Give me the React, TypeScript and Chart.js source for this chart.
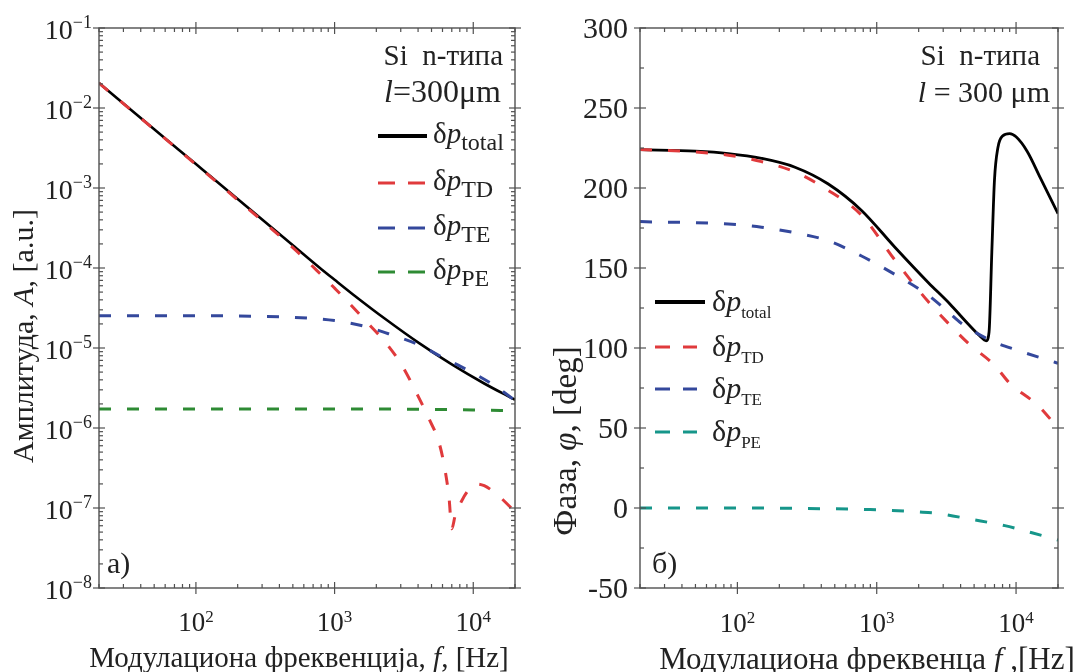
import React, { useEffect, useRef } from 'react';
import { Chart, registerables } from 'chart.js';

Chart.register(...registerables);

const SERIF = '"Liberation Serif","Times New Roman",serif';
const font = (size: number, style = '') => `${style} ${size}px ${SERIF}`.trim();

// ---------- Panel а) : amplitude ----------
const ampTotalFreq = [20, 50, 100, 200, 500, 780, 1000, 1350, 2350, 4070, 7000, 12000, 20000];
const ampTotal = [2.05e-2, 5.43e-3, 1.99e-3, 7.29e-4, 1.93e-4, 1.01e-4, 7.13e-5, 4.71e-5, 2.27e-5, 1.15e-5, 6.24e-6, 3.6e-6, 2.25e-6];

const ampTDFreq = [20, 50, 100, 200, 500, 780, 1000, 1150, 1690, 2350, 3090, 3870, 4800, 5690, 6300, 6700, 7000, 7400, 8300, 9300, 10500, 12000, 15000, 20000];
const ampTD = [2.05e-2, 5.4e-3, 1.97e-3, 7.1e-4, 1.8e-4, 8.6e-5, 5.6e-5, 4.38e-5, 2.15e-5, 1.15e-5, 5.9e-6, 2.8e-6, 1.3e-6, 6.4e-7, 2.8e-7, 1.3e-7, 5.5e-8, 8e-8, 1.25e-7, 1.7e-7, 2.0e-7, 1.9e-7, 1.45e-7, 9.0e-8];

const ampTEFreq = [20, 100, 200, 500, 1000, 1690, 2610, 4070, 6310, 9300, 14560, 20000];
const ampTE = [2.53e-5, 2.53e-5, 2.51e-5, 2.42e-5, 2.2e-5, 1.85e-5, 1.45e-5, 1.09e-5, 7.3e-6, 5.2e-6, 3.3e-6, 2.2e-6];

const ampPEFreq = [20, 1000, 3000, 6000, 10000, 20000];
const ampPE = [1.73e-6, 1.73e-6, 1.72e-6, 1.70e-6, 1.68e-6, 1.64e-6];

const ampTickValues = [1e-8, 1e-7, 1e-6, 1e-5, 1e-4, 1e-3, 1e-2, 1e-1];
const ampTickExps = ['−8', '−7', '−6', '−5', '−4', '−3', '−2', '−1'];

// ---------- Panel б) : phase ----------
const phTotalFreq = [20, 50, 86, 149, 259, 449, 778, 1350, 2340, 3350, 4530, 5500, 6100, 6400, 6700, 7000, 7400, 8000, 9000, 10000, 12000, 15000, 20000];
const phTotal = [224, 223, 221.5, 218.5, 213, 202.5, 186, 163, 141, 127.5, 115, 107.5, 104.5, 110, 160, 205, 225, 232.5, 234, 232, 223, 206, 184];

const phTDFreq = [20, 50, 86, 149, 259, 449, 778, 1350, 2340, 3300, 4530, 7050, 9000, 14400, 20000];
const phTD = [224, 222.5, 220.5, 216.5, 210, 198.5, 183, 155, 129, 115, 103, 89, 78, 64, 50];

const phTEFreq = [20, 86, 149, 259, 449, 778, 1350, 2340, 3260, 4040, 6650, 10300, 16900, 20000];
const phTE = [179, 177.5, 175.5, 172, 167, 157.5, 146, 133, 122.5, 115.5, 104.5, 98.5, 92.5, 90.5];

const phPEFreq = [20, 100, 300, 900, 2000, 2800, 4700, 8300, 13000, 20000];
const phPE = [0, 0, -0.3, -1, -2.5, -3.5, -7, -11, -15.5, -20];

const phTickValues = [-50, 0, 50, 100, 150, 200, 250, 300];
const phTickLabels = ['-50', '0', '50', '100', '150', '200', '250', '300'];

// ---------- shared x axis ----------
const freqTickValues = [100, 1000, 10000];
const freqTickExps = ['2', '3', '4'];

const C_BLACK = '#000000';
const C_RED = '#e03a3c';
const C_BLUE = '#34489c';
const C_GREEN = '#2e8b34';
const C_TEAL = '#16968a';
const DASH = [12, 16];

type Run = { t: string; f: string; dy?: number };

function drawRuns(ctx: CanvasRenderingContext2D, runs: Run[], x: number, y: number, align: 'left' | 'center' | 'right' = 'left') {
  let total = 0;
  runs.forEach((r) => { ctx.font = r.f; total += ctx.measureText(r.t).width; });
  let cx = align === 'left' ? x : align === 'center' ? x - total / 2 : x - total;
  ctx.textAlign = 'left';
  ctx.textBaseline = 'alphabetic';
  runs.forEach((r) => {
    ctx.font = r.f;
    ctx.fillText(r.t, cx, y + (r.dy || 0));
    cx += ctx.measureText(r.t).width;
  });
  return total;
}

function logTicks(min: number, max: number) {
  const out: { v: number; major: boolean }[] = [];
  for (let k = Math.floor(Math.log10(min)); k <= Math.ceil(Math.log10(max)); k++) {
    for (let m = 1; m <= 9; m++) {
      const v = m * Math.pow(10, k);
      if (v >= min * (1 - 1e-9) && v <= max * (1 + 1e-9)) out.push({ v, major: m === 1 });
    }
  }
  return out;
}

function line(ctx: CanvasRenderingContext2D, x1: number, y1: number, x2: number, y2: number) {
  ctx.beginPath();
  ctx.moveTo(x1, y1);
  ctx.lineTo(x2, y2);
  ctx.stroke();
}

function drawFrameAndTicks(ctx: CanvasRenderingContext2D, ca: any, xTicks: { p: number; major: boolean }[], yTicks: { p: number; major: boolean }[]) {
  ctx.strokeStyle = '#505050';
  ctx.lineWidth = 1.4;
  ctx.strokeRect(ca.left, ca.top, ca.right - ca.left, ca.bottom - ca.top);
  ctx.lineWidth = 1.2;
  xTicks.forEach(({ p, major }) => {
    if (major) {
      line(ctx, p, ca.bottom + 6, p, ca.bottom - 6);
      line(ctx, p, ca.top - 6, p, ca.top + 6);
    } else {
      line(ctx, p, ca.bottom, p, ca.bottom - 4);
      line(ctx, p, ca.top, p, ca.top + 4);
    }
  });
  yTicks.forEach(({ p, major }) => {
    if (major) {
      line(ctx, ca.left - 6, p, ca.left + 6, p);
      line(ctx, ca.right + 6, p, ca.right - 6, p);
    } else {
      line(ctx, ca.left, p, ca.left + 4, p);
      line(ctx, ca.right, p, ca.right - 4, p);
    }
  });
}

type LegendItem = { color: string; dashed: boolean; sub: string };

function drawLegend(ctx: CanvasRenderingContext2D, items: LegendItem[], rows: number[], x1: number, x2: number, x2d: number, dash: number[], tx: number, mainSize: number, subSize: number, baseOff: number, subOff: number) {
  items.forEach((it, i) => {
    const y = rows[i];
    ctx.save();
    ctx.strokeStyle = it.color;
    ctx.lineWidth = it.dashed ? 3.2 : 4;
    ctx.setLineDash(it.dashed ? dash : []);
    line(ctx, x1, y, it.dashed ? x2d : x2, y);
    ctx.restore();
    ctx.fillStyle = '#222';
    drawRuns(ctx, [
      { t: 'δ', f: font(mainSize) },
      { t: 'p', f: font(mainSize, 'italic') },
      { t: it.sub, f: font(subSize), dy: subOff },
    ], tx, y + baseOff, 'left');
  });
}

function series(label: string, fr: number[], vals: number[], color: string, dashed: boolean, width: number) {
  return {
    label,
    data: fr.map((f, i) => ({ x: f, y: vals[i] })),
    borderColor: color,
    backgroundColor: color,
    borderWidth: width,
    borderDash: dashed ? DASH : [],
    borderCapStyle: 'butt' as const,
    pointRadius: 0,
    fill: false,
    cubicInterpolationMode: 'monotone' as const,
  };
}

const ampDecor = {
  id: 'ampDecor',
  afterDraw(chart: any) {
    const { ctx, chartArea: ca } = chart;
    const xs = chart.scales.x;
    const ys = chart.scales.y;
    ctx.save();
    drawFrameAndTicks(
      ctx, ca,
      logTicks(20, 20000).map((t) => ({ p: xs.getPixelForValue(t.v), major: t.major })),
      logTicks(1e-8, 1e-1).map((t) => ({ p: ys.getPixelForValue(t.v), major: t.major })),
    );
    ctx.fillStyle = '#222';
    freqTickValues.forEach((v, i) => {
      drawRuns(ctx, [{ t: '10', f: font(27) }, { t: freqTickExps[i], f: font(17), dy: -9 }], xs.getPixelForValue(v), ca.bottom + 43, 'center');
    });
    ampTickValues.forEach((v, i) => {
      drawRuns(ctx, [{ t: '10', f: font(28) }, { t: ampTickExps[i], f: font(18), dy: -11 }], ca.left - 7, ys.getPixelForValue(v) + 11, 'right');
    });
    // axis titles
    drawRuns(ctx, [
      { t: 'Модулациона фреквенција, ', f: font(29) },
      { t: 'f', f: font(29, 'italic') },
      { t: ', [Hz]', f: font(29) },
    ], 299, 667, 'center');
    ctx.save();
    ctx.translate(33, 336);
    ctx.rotate(-Math.PI / 2);
    drawRuns(ctx, [
      { t: 'Амплитуда, ', f: font(30) },
      { t: 'A', f: font(30, 'italic') },
      { t: ', [a.u.]', f: font(30) },
    ], 0, 0, 'center');
    ctx.restore();
    // annotations
    drawRuns(ctx, [{ t: 'Si  n-типа', f: font(29) }], 503, 65, 'right');
    drawRuns(ctx, [{ t: 'l', f: font(32, 'italic') }, { t: '=300μm', f: font(32) }], 501, 102, 'right');
    drawRuns(ctx, [{ t: 'а)', f: font(30) }], ca.left + 8, 573, 'left');
    drawLegend(ctx, [
      { color: C_BLACK, dashed: false, sub: 'total' },
      { color: C_RED, dashed: true, sub: 'TD' },
      { color: C_BLUE, dashed: true, sub: 'TE' },
      { color: C_GREEN, dashed: true, sub: 'PE' },
    ], [136, 183, 228, 272], 378, 427, 427, [17, 13], 433, 29, 24, 7, 7);
    ctx.restore();
  },
};

const phDecor = {
  id: 'phDecor',
  afterDraw(chart: any) {
    const { ctx, chartArea: ca } = chart;
    const xs = chart.scales.x;
    const ys = chart.scales.y;
    ctx.save();
    const yT: { p: number; major: boolean }[] = [];
    for (let v = -50; v <= 300; v += 25) yT.push({ p: ys.getPixelForValue(v), major: v % 50 === 0 });
    drawFrameAndTicks(ctx, ca, logTicks(20, 20000).map((t) => ({ p: xs.getPixelForValue(t.v), major: t.major })), yT);
    ctx.fillStyle = '#222';
    freqTickValues.forEach((v, i) => {
      drawRuns(ctx, [{ t: '10', f: font(27) }, { t: freqTickExps[i], f: font(17), dy: -9 }], xs.getPixelForValue(v), ca.bottom + 44, 'center');
    });
    phTickValues.forEach((v, i) => {
      drawRuns(ctx, [{ t: phTickLabels[i], f: font(30) }], ca.left - 12, ys.getPixelForValue(v) + 10, 'right');
    });
    drawRuns(ctx, [
      { t: 'Модулациона фреквенца ', f: font(31) },
      { t: 'f', f: font(31, 'italic') },
      { t: ' ,[Hz]', f: font(31) },
    ], 329, 669, 'center');
    ctx.save();
    ctx.translate(38, 441);
    ctx.rotate(-Math.PI / 2);
    drawRuns(ctx, [
      { t: 'Фаза, ', f: font(33) },
      { t: 'φ', f: font(33, 'italic') },
      { t: ', [deg]', f: font(33) },
    ], 0, 0, 'center');
    ctx.restore();
    drawRuns(ctx, [{ t: 'Si  n-типа', f: font(29) }], 502, 65, 'right');
    drawRuns(ctx, [{ t: 'l', f: font(30, 'italic') }, { t: ' = 300 μm', f: font(30) }], 512, 102, 'right');
    drawRuns(ctx, [{ t: 'б)', f: font(30) }], ca.left + 12, 573, 'left');
    drawLegend(ctx, [
      { color: C_BLACK, dashed: false, sub: 'total' },
      { color: C_RED, dashed: true, sub: 'TD' },
      { color: C_BLUE, dashed: true, sub: 'TE' },
      { color: C_TEAL, dashed: true, sub: 'PE' },
    ], [302, 347, 389, 432], 117, 167, 159, [15, 13], 174, 30, 17, 9, 7);
    ctx.restore();
  },
};

function ampConfig(): any {
  return {
    type: 'line',
    data: {
      datasets: [
        series('δp PE', ampPEFreq, ampPE, C_GREEN, true, 3),
        series('δp TE', ampTEFreq, ampTE, C_BLUE, true, 3),
        series('δp TD', ampTDFreq, ampTD, C_RED, true, 3),
        series('δp total', ampTotalFreq, ampTotal, C_BLACK, false, 2.6),
      ],
    },
    options: {
      animation: false,
      responsive: false,
      devicePixelRatio: 1,
      events: [],
      layout: { padding: { left: 99, right: 23, top: 28, bottom: 84 } },
      scales: {
        x: { type: 'logarithmic', min: 20, max: 20000, display: false },
        y: { type: 'logarithmic', min: 1e-8, max: 1e-1, display: false },
      },
      plugins: { legend: { display: false }, tooltip: { enabled: false } },
    },
    plugins: [ampDecor],
  };
}

function phConfig(): any {
  return {
    type: 'line',
    data: {
      datasets: [
        series('δp PE', phPEFreq, phPE, C_TEAL, true, 3),
        series('δp TE', phTEFreq, phTE, C_BLUE, true, 3),
        series('δp TD', phTDFreq, phTD, C_RED, true, 3),
        series('δp total', phTotalFreq, phTotal, C_BLACK, false, 2.8),
      ],
    },
    options: {
      animation: false,
      responsive: false,
      devicePixelRatio: 1,
      events: [],
      layout: { padding: { left: 102, right: 19, top: 28, bottom: 84 } },
      scales: {
        x: { type: 'logarithmic', min: 20, max: 20000, display: false },
        y: { type: 'linear', min: -50, max: 300, display: false },
      },
      plugins: { legend: { display: false }, tooltip: { enabled: false } },
    },
    plugins: [phDecor],
  };
}

function Panel({ left, width, make }: { left: number; width: number; make: () => any }) {
  const ref = useRef<HTMLCanvasElement>(null);
  useEffect(() => {
    const chart = new Chart(ref.current as HTMLCanvasElement, make());
    return () => chart.destroy();
  }, []);
  return (
    <canvas
      ref={ref}
      width={width}
      height={672}
      style={{ position: 'absolute', left, top: 0, width, height: 672 }}
    />
  );
}

export default function App() {
  return (
    <div style={{ position: 'absolute', left: 0, top: 0, width: 1077, height: 672, background: '#fff', overflow: 'hidden' }}>
      <Panel left={0} width={538} make={ampConfig} />
      <Panel left={538} width={539} make={phConfig} />
    </div>
  );
}
